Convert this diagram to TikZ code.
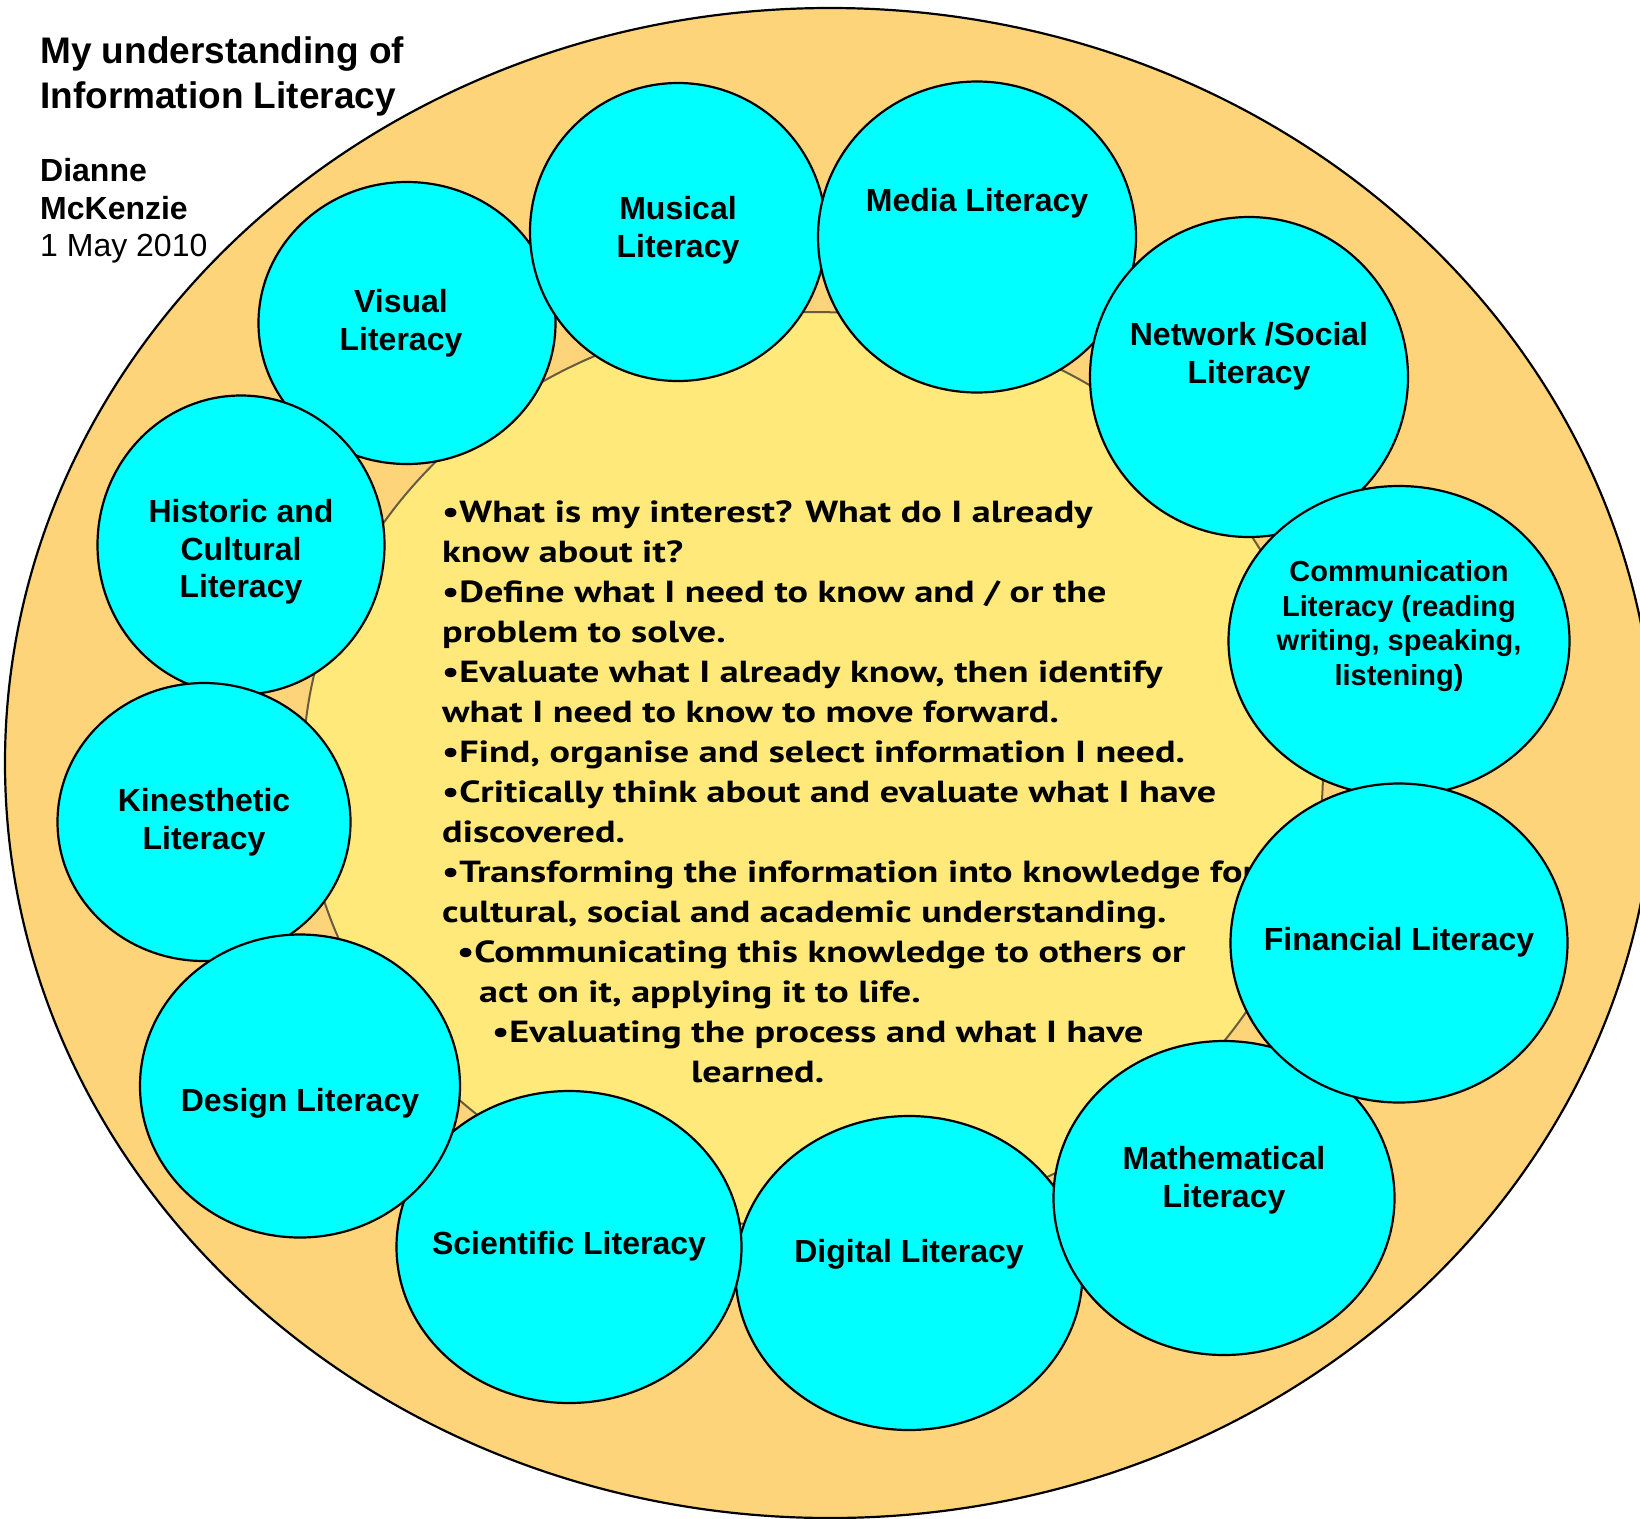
\documentclass[tikz,border=0pt]{standalone}
\usepackage{fontspec}
\setmainfont{Liberation Sans}
\newfontfamily\ptsans[FakeStretch=1.25]{PT Sans}
\usepackage{xcolor}
\usepackage{tikz}
\usetikzlibrary{shapes.geometric, positioning}
\definecolor{ringfill}{RGB}{254,212,122}
\definecolor{corefill}{RGB}{255,233,122}
\definecolor{litcyan}{RGB}{0,255,255}
\definecolor{ringline}{RGB}{105,92,62}
\tikzset{
	lit/.style={ellipse, draw=black, line width=2.2pt, fill=litcyan, inner sep=0pt},
	littext/.style={align=center, inner sep=0pt, font=\fontsize{32}{37.7}\selectfont\bfseries},
	smalltext/.style={littext, font=\fontsize{29}{34.5}\selectfont\bfseries}
}

\begin{document}
\begin{tikzpicture}[x=1pt, y=-1pt,
	steps/.style={align=left, inner sep=0pt, anchor=north west, font=\ptsans\bfseries\fontsize{30.5}{40}\selectfont},
	heading/.style={align=left, inner sep=0pt, anchor=north west}]
	\useasboundingbox (0,0) rectangle (1640,1518);
	% the two rings
	\draw[fill=ringfill, line width=2.2pt] (830,763) ellipse [x radius=825, y radius=755];
	\draw[fill=corefill, draw=ringline, line width=2pt] (813,770) ellipse [x radius=510, y radius=458];
	% what I do
	\node[steps] (steps) at (442,501) {%
		•What is my interest? What do I already\\
		know about it?\\
		•Define what I need to know and / or the\\
		problem to solve.\\
		•Evaluate what I already know, then identify\\
		what I need to know to move forward.\\
		•Find, organise and select information I need.\\
		•Critically think about and evaluate what I have\\
		discovered.\\
		•Transforming the information into knowledge for\\
		cultural, social and academic understanding.\\
		\hspace*{15pt}•Communicating this knowledge to others or\\
		\hspace*{37pt}act on it, applying it to life.\\
		\hspace*{50pt}•Evaluating the process and what I have\\
		\hspace*{249pt}learned.};
	% literacies, bottom one first
	\node[lit, minimum width=347pt, minimum height=314pt] (digital) at (909,1273) {};
	\node[littext] (digital-t) at ([yshift=19pt]digital.center) {Digital Literacy};
	\node[lit, minimum width=345pt, minimum height=312pt] (scientific) at (569,1247) {};
	\node[littext] (scientific-t) at ([yshift=1pt]scientific.center) {Scientific Literacy};
	\node[lit, minimum width=297pt, minimum height=282pt] (visual) at (407,323) {};
	\node[littext] (visual-t) at ([xshift=-6pt]visual.center) {Visual\\Literacy};
	\node[lit, minimum width=296pt, minimum height=298pt] (musical) at (678,232) {};
	\node[littext] (musical-t) at ([yshift=2pt]musical.center) {Musical\\Literacy};
	\node[lit, minimum width=318pt, minimum height=311pt] (media) at (977,237) {};
	\node[littext] (media-t) at ([yshift=34pt]media.center) {Media Literacy};
	\node[lit, minimum width=318pt, minimum height=320pt] (network) at (1249,377) {};
	\node[littext] (network-t) at ([yshift=21pt]network.center) {Network /Social\\Literacy};
	\node[lit, minimum width=341pt, minimum height=310pt] (communication) at (1399,641) {};
	\node[smalltext] (communication-t) at ([yshift=15pt]communication.center) {Communication\\Literacy (reading\\writing, speaking,\\listening)};
	\node[lit, minimum width=341pt, minimum height=314pt] (mathematical) at (1224,1198) {};
	\node[littext] (mathematical-t) at ([yshift=18pt]mathematical.center) {Mathematical\\Literacy};
	\node[lit, minimum width=337pt, minimum height=319pt] (financial) at (1399,943) {};
	\node[littext] (financial-t) at ([yshift=1pt]financial.center) {Financial Literacy};
	\node[lit, minimum width=287pt, minimum height=299pt] (historic) at (241,545) {};
	\node[littext] (historic-t) at ([yshift=-7pt]historic.center) {Historic and\\Cultural\\Literacy};
	\node[lit, minimum width=293pt, minimum height=278pt] (kinesthetic) at (204,822) {};
	\node[littext] (kinesthetic-t) at (kinesthetic.center) {Kinesthetic\\Literacy};
	\node[lit, minimum width=320pt, minimum height=303pt] (design) at (300,1086) {};
	\node[littext] (design-t) at ([yshift=-17pt]design.center) {Design Literacy};
	% heading
	\node[heading, font=\fontsize{37}{45}\selectfont\bfseries] (title) at (40,36) {My understanding of\\Information Literacy};
	\node[heading, font=\fontsize{32}{37.7}\selectfont] (author) at (40,158) {\textbf{Dianne}\\\textbf{McKenzie}\\1 May 2010};
\end{tikzpicture}
\end{document}
